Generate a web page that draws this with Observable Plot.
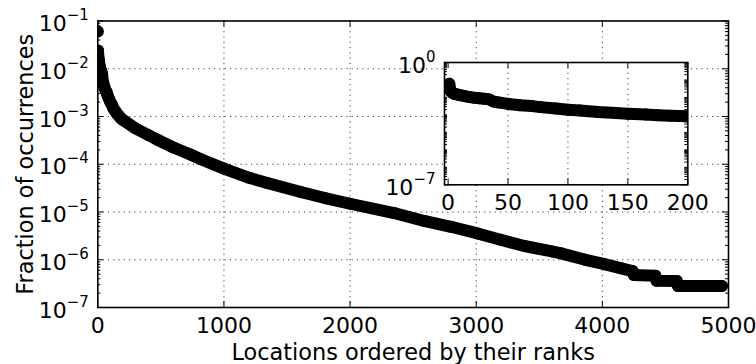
<!DOCTYPE html>
<html>
<head>
<meta charset="utf-8">
<script src="https://cdn.jsdelivr.net/npm/d3@7"></script>
<script src="https://cdn.jsdelivr.net/npm/@observablehq/plot@0.6"></script>
<style>
  html, body { margin: 0; padding: 0; background: #fff; }
  #chart { position: relative; width: 756px; height: 364px; overflow: hidden; }
  #chart svg { position: absolute; }
</style>
</head>
<body>
<div id="chart"></div>
<script>
// Rank of each location (1 = most frequently visited)
const ranks = [
  1, 2, 3, 4, 5, 6, 8, 10, 14, 18, 22, 26, 30, 34, 38, 42, 50, 60, 70, 77, 90,
  100, 110, 125, 140, 150, 165, 175, 185, 200, 300, 400, 469, 600, 734, 813,
  1000, 1200, 1344, 1609, 1800, 2000, 2349, 2587, 2800, 3011, 3200, 3381,
  3600, 3672, 3857, 4008, 4150, 4240, 4250, 4420, 4430, 4590, 4600, 4948
];
// Fraction of all occurrences that fall on the location at that rank
const fractions = [
  0.060, 0.024, 0.020, 0.018, 0.0165, 0.0155, 0.0145, 0.0134, 0.0118, 0.0105,
  0.0096, 0.0090, 0.0085, 0.0078, 0.0058, 0.0052, 0.0043, 0.0036, 0.0032,
  0.0028, 0.0023, 0.0020, 0.0018, 0.00145, 0.00128, 0.00116, 0.00105, 0.00097,
  0.00091, 0.00084, 5.6e-4, 4.1e-4, 3.3e-4, 2.24e-4, 1.6e-4, 1.29e-4, 8.1e-5,
  5.2e-5, 4.05e-5, 2.62e-5, 1.96e-5, 1.49e-5, 9.5e-6, 6.5e-6, 4.9e-6, 3.56e-6,
  2.6e-6, 1.94e-6, 1.49e-6, 1.36e-6, 1.01e-6, 8.2e-7, 6.6e-7, 5.8e-7, 4.8e-7,
  4.6e-7, 3.63e-7, 3.6e-7, 2.82e-7, 2.82e-7
];

// Axis ticks
const xTicks = [0, 1000, 2000, 3000, 4000, 5000];
const yTicks = [1e-7, 1e-6, 1e-5, 1e-4, 1e-3, 1e-2, 1e-1];
const insetXTicks = [0, 50, 100, 150, 200];
const insetYTicks = [1e-7, 1e0];

// Text
const xLabel = "Locations ordered by their ranks";
const yLabel = "Fraction of occurrences";

const points = ranks.map((rank, i) => ({rank, fraction: fractions[i]}));

// minor log ticks within each decade
function minorLogTicks(lo, hi, withDecades) {
  const out = [];
  for (let e = lo; e < hi; e++) {
    for (let k = withDecades ? 1 : 2; k <= 9; k++) {
      const v = k * Math.pow(10, e);
      if (v > Math.pow(10, lo)) out.push(v);
    }
  }
  return out;
}

const exponent = d => String(Math.round(Math.log10(d)));
const plain = d => String(d);
const FONT = "DejaVu Sans";
const dotted = {stroke: "#000", strokeOpacity: 0.75, strokeWidth: 1, strokeDasharray: "1.2,4.1"};
const curve = {x: "rank", y: "fraction", clip: true};

// Turn exponent-only tick labels into 10 with a superscript
function powerLabels(svg) {
  d3.select(svg).selectAll('g[aria-label="y-axis tick label"] text').each(function () {
    const t = d3.select(this);
    const e = t.text().replace("-", "\u2212");
    t.text(null);
    t.append("tspan").text("10");
    t.append("tspan").attr("dy", -11).attr("font-size", 15).text(e);
  });
}

// ---------- main chart ----------
const W = 756, H = 364;
const mL = 97.3, mT = 20.5, mR = 28, mB = 57;
const pW = W - mL - mR, pH = H - mT - mB;

const main = Plot.plot({
  width: W, height: H,
  marginLeft: mL, marginTop: mT, marginRight: mR, marginBottom: mB,
  style: {fontFamily: FONT, fontSize: "22px", color: "black", background: "white"},
  x: {domain: [0, 5000]},
  y: {type: "log", domain: [1e-7, 1e-1]},
  marks: [
    Plot.gridX(xTicks.slice(1, -1), dotted),
    Plot.gridY(yTicks.slice(1, -1), dotted),
    Plot.line(points.filter(d => d.rank > 1), {...curve, stroke: "black", strokeWidth: 12, strokeLinecap: "round", strokeLinejoin: "round"}),
    Plot.dot(points, {...curve, r: 6, fill: "black", stroke: null}),
    Plot.tickX(xTicks, {insetTop: pH - 6, stroke: "black"}),
    Plot.tickX(xTicks, {insetBottom: pH - 6, stroke: "black"}),
    Plot.tickY(yTicks, {insetRight: pW - 6, stroke: "black"}),
    Plot.tickY(yTicks, {insetLeft: pW - 6, stroke: "black"}),
    Plot.tickY(minorLogTicks(-7, -1, false), {insetRight: pW - 3, stroke: "black"}),
    Plot.tickY(minorLogTicks(-7, -1, false), {insetLeft: pW - 3, stroke: "black"}),
    Plot.frame({stroke: "black", strokeWidth: 1.6}),
    Plot.axisX(xTicks, {tickSize: 0, tickPadding: 9.4, tickFormat: plain, label: null, fontSize: 22}),
    Plot.axisY(yTicks, {tickSize: 0, tickPadding: 9, dy: 3, tickFormat: exponent, label: null, fontSize: 22}),
    Plot.text([xLabel], {text: d => d, frameAnchor: "bottom", lineAnchor: "middle", textAnchor: "middle", dy: 45, fontSize: 22.4}),
    Plot.text([yLabel], {text: d => d, frameAnchor: "left", lineAnchor: "middle", textAnchor: "middle", dx: -72, rotate: -90, fontSize: 22.4})
  ]
});
powerLabels(main);
main.style.left = "0px";
main.style.top = "0px";

// ---------- inset: the 200 top-ranked locations ----------
const iX = 380, iY = 40, iW = 340, iH = 180;
const imL = 64, imT = 22, imR = 32.7, imB = 35.7;
const ipW = iW - imL - imR, ipH = iH - imT - imB;

const inset = Plot.plot({
  width: iW, height: iH,
  marginLeft: imL, marginTop: imT, marginRight: imR, marginBottom: imB,
  style: {fontFamily: FONT, fontSize: "22px", color: "black", background: "transparent"},
  x: {domain: [-3, 200]},
  y: {type: "log", domain: [1e-7, 1e0]},
  marks: [
    Plot.frame({fill: "white"}),
    Plot.gridX(insetXTicks.slice(1, -1), dotted),
    Plot.line(points.filter(d => d.rank <= 220), {...curve, stroke: "black", strokeWidth: 12, strokeLinecap: "round", strokeLinejoin: "round"}),
    Plot.dot(points.filter(d => d.rank <= 220), {...curve, r: 6, fill: "black", stroke: null}),
    Plot.tickX(insetXTicks, {insetTop: ipH - 6, stroke: "black"}),
    Plot.tickX(insetXTicks, {insetBottom: ipH - 6, stroke: "black"}),
    Plot.tickY(insetYTicks, {insetRight: ipW - 6, stroke: "black"}),
    Plot.tickY(insetYTicks, {insetLeft: ipW - 6, stroke: "black"}),
    Plot.tickY(minorLogTicks(-7, 0, true), {insetRight: ipW - 3, stroke: "black"}),
    Plot.tickY(minorLogTicks(-7, 0, true), {insetLeft: ipW - 3, stroke: "black"}),
    Plot.frame({stroke: "black", strokeWidth: 1.6}),
    Plot.axisX(insetXTicks, {tickSize: 0, tickPadding: 10, tickFormat: plain, label: null, fontSize: 22}),
    Plot.axisY(insetYTicks, {tickSize: 0, tickPadding: 9, dy: 3, tickFormat: exponent, label: null, fontSize: 22})
  ]
});
powerLabels(inset);
inset.style.left = iX + "px";
inset.style.top = iY + "px";

const chart = document.getElementById("chart");
chart.appendChild(main);
chart.appendChild(inset);
</script>
</body>
</html>
